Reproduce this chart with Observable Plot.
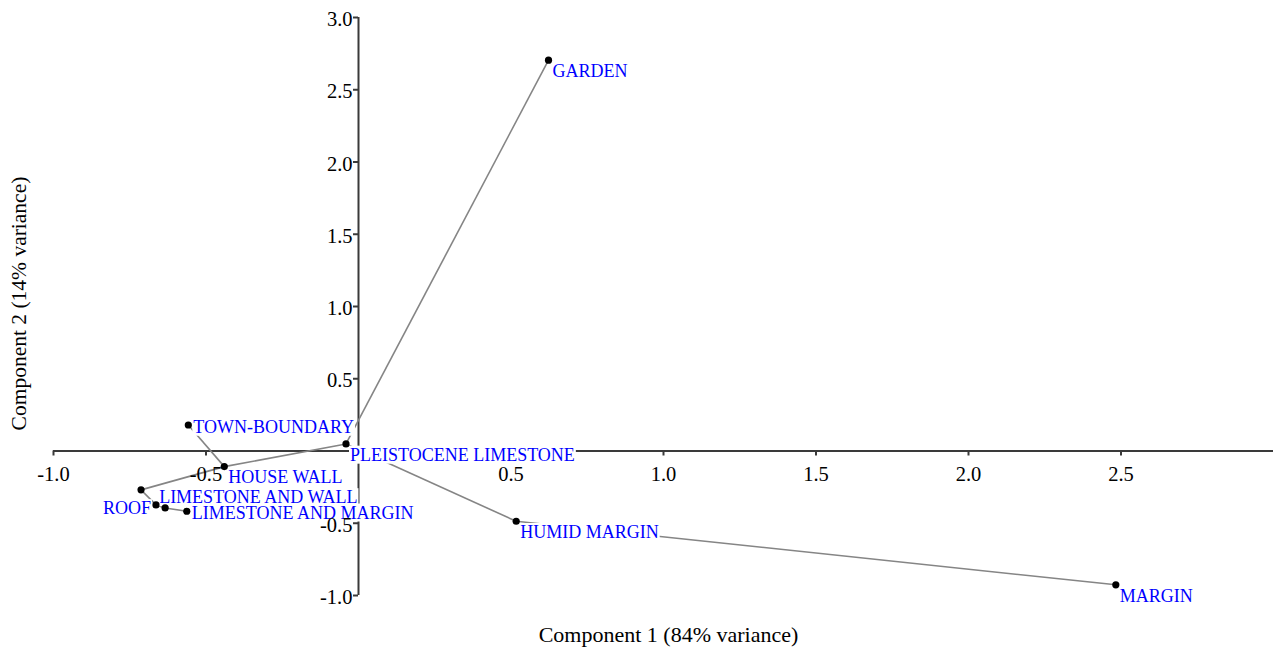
<!DOCTYPE html>
<html>
<head>
<meta charset="utf-8">
<script src="https://cdn.jsdelivr.net/npm/d3@7"></script>
<script src="https://cdn.jsdelivr.net/npm/@observablehq/plot@0.6"></script>
<style>
  html, body { margin: 0; padding: 0; background: #fff; }
  #chart svg { display: block; }
</style>
</head>
<body>
<div id="chart"></div>
<script>
// ---- data ----
const siteNames = ["GARDEN", "TOWN-BOUNDARY", "PLEISTOCENE LIMESTONE", "HOUSE WALL",
  "HUMID MARGIN", "MARGIN", "", "ROOF", "LIMESTONE AND WALL", "LIMESTONE AND MARGIN"];
const component1 = [0.623, -0.558, -0.041, -0.440, 0.517, 2.483, -0.713, -0.664, -0.634, -0.563];
const component2 = [2.705, 0.180, 0.049, -0.108, -0.486, -0.926, -0.269, -0.373, -0.394, -0.417];
// tree links (indices into the arrays above)
const linkFrom = [0, 3, 3, 2, 4, 3, 6, 7, 8];
const linkTo   = [2, 1, 2, 4, 5, 6, 7, 8, 9];
const xTicks = [-1.0, -0.5, 0.5, 1.0, 1.5, 2.0, 2.5];
const yTicks = [-1.0, -0.5, 0.5, 1.0, 1.5, 2.0, 2.5, 3.0];
const xTitle = "Component 1 (84% variance)";
const yTitle = "Component 2 (14% variance)";

// ---- build tables ----
const points = siteNames.map((name, i) => ({name, c1: component1[i], c2: component2[i]}));
const links = linkFrom.map((a, i) => ({
  x1: component1[a], y1: component2[a], x2: component1[linkTo[i]], y2: component2[linkTo[i]]
}));

// label placement (style only)
const placement = {
  "TOWN-BOUNDARY": {dx: 5, dy: 2, textAnchor: "start"},
  "ROOF": {dx: -5, dy: 3.5, textAnchor: "end"},
  "LIMESTONE AND WALL": {dx: -6, dy: -10.5, textAnchor: "start"},
  "LIMESTONE AND MARGIN": {dx: 5, dy: 1.5, textAnchor: "start"}
};
const defaultPlacement = {dx: 4, dy: 11, textAnchor: "start"};
const labelled = points.filter(d => d.name !== "");
const groups = d3.groups(labelled, d => JSON.stringify(placement[d.name] || defaultPlacement));

const serif = "'Liberation Serif', 'Times New Roman', Times, serif";
const axisColor = "#3a3a3a";

// invisible copies of the labels, used to size white boxes behind them
const bgMarks = groups.map(([key, data]) => Plot.text(data, {
  x: "c1", y: "c2", text: "name", ...JSON.parse(key),
  fontSize: 18, fill: "none"
}));
const labelMarks = groups.map(([key, data]) => Plot.text(data, {
  x: "c1", y: "c2", text: "name", ...JSON.parse(key),
  fontSize: 18, fill: "#0000ff"
}));

const chart = Plot.plot({
  width: 1273,
  height: 648,
  marginLeft: 53,
  marginRight: 0,
  marginTop: 17,
  marginBottom: 53,
  style: {fontFamily: serif, background: "white"},
  x: {domain: [-1, 3], axis: null},
  y: {domain: [-1, 3], axis: null},
  marks: [
    // axes through the origin
    Plot.ruleY([0], {x1: -1, x2: 3, stroke: axisColor, strokeWidth: 2}),
    Plot.ruleX([0], {y1: -1, y2: 3, stroke: axisColor, strokeWidth: 2}),
    Plot.ruleX(xTicks, {x: d => d, y1: 0, y2: 0, insetBottom: -5, stroke: axisColor, strokeWidth: 2}),
    Plot.ruleY(yTicks, {y: d => d, x1: 0, x2: 0, insetLeft: -5, stroke: axisColor, strokeWidth: 2}),
    // tree links
    Plot.link(links, {x1: "x1", y1: "y1", x2: "x2", y2: "y2", stroke: "#858585", strokeWidth: 1.6}),
    // label background boxes (filled in below)
    ...bgMarks,
    // points
    Plot.dot(points, {x: "c1", y: "c2", r: 3.6, fill: "black"}),
    // labels
    ...labelMarks,
    // tick labels
    Plot.text(xTicks, {x: d => d, y: 0, text: d => d.toFixed(1), dy: 23, fontSize: 20.5, fill: "black"}),
    Plot.text(yTicks, {x: 0, y: d => d, text: d => d.toFixed(1), dx: -6, dy: 2, textAnchor: "end", fontSize: 20.5, fill: "black"}),
    // axis titles
    Plot.text([xTitle], {frameAnchor: "bottom", text: d => d, textAnchor: "middle", lineAnchor: "middle", dx: 5, dy: 39, fontSize: 22, fill: "black"}),
    Plot.text([yTitle], {frameAnchor: "left", text: d => d, rotate: -90, textAnchor: "middle", lineAnchor: "middle", dx: -34, dy: -3, fontSize: 21.5, fill: "black"})
  ]
});
document.getElementById("chart").appendChild(chart);

// white boxes behind each label, as in the reference
chart.querySelectorAll('g[fill="none"] text').forEach(t => {
  const b = t.getBBox();
  const r = document.createElementNS("http://www.w3.org/2000/svg", "rect");
  r.setAttribute("x", b.x - 1);
  r.setAttribute("y", b.y + 1);
  r.setAttribute("width", b.width + 2);
  r.setAttribute("height", b.height - 2);
  r.setAttribute("fill", "white");
  if (t.getAttribute("transform")) r.setAttribute("transform", t.getAttribute("transform"));
  t.parentNode.insertBefore(r, t);
});
</script>
</body>
</html>
